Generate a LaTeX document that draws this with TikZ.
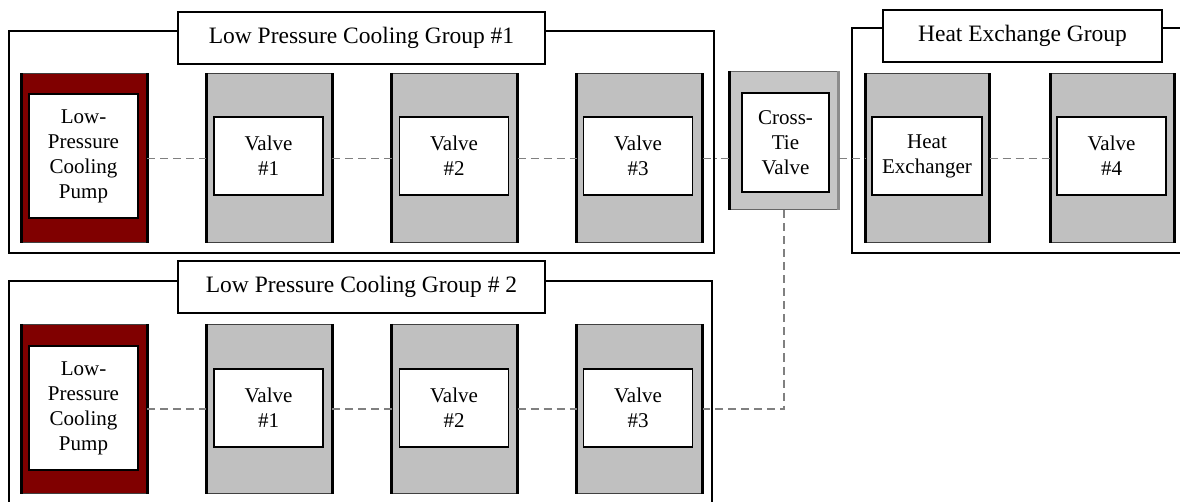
\documentclass[tikz,border=0pt]{standalone}
\usepackage{fontspec}
\setmainfont{Liberation Serif}
\newcommand\bxfont{\fontsize{21}{25}\selectfont}
\newcommand\ttlfont{\fontsize{23.5}{28}\selectfont}
\definecolor{valvegray}{HTML}{C0C0C0}
\definecolor{pumpred}{HTML}{800000}
\definecolor{pipegray}{HTML}{808080}
\tikzset{
  groupbox/.style={draw=black, line width=2pt, fill=none, inner sep=0pt},
  titlebox/.style={draw=black, fill=white, line width=1.5pt, font=\ttlfont, inner sep=0pt, minimum height=52pt},
  valvebox/.style={draw=black!75, fill=valvegray, line width=1pt, inner sep=0pt, minimum width=125pt, minimum height=169pt},
  pumpbox/.style={valvebox, fill=pumpred},
  crossbox/.style={draw=black!60, fill=valvegray!90, line width=1pt, inner sep=0pt, minimum width=108pt, minimum height=138pt},
  labelbox/.style={draw=black, fill=white, line width=1.5pt, align=center, font=\bxfont, inner sep=0pt, minimum width=109pt, minimum height=78pt},
  sideline/.style={draw=black, line width=3pt},
  pipe/.style={draw=pipegray, line width=1.5pt, dash pattern=on 8pt off 5pt},
  pipedot/.style={draw=pipegray, line width=1.5pt, dash pattern=on 8pt off 4pt on 2pt off 4pt}
}
\begin{document}
\begin{tikzpicture}[x=1pt,y=-1pt]
\useasboundingbox (0,0) rectangle (1180,502);
\begin{scope}
\clip (0,0) rectangle (1180,502);
% group frames
\node[groupbox, minimum width=705pt, minimum height=222pt] (g1) at (361.5,142) {};
\node[groupbox, minimum width=348pt, minimum height=225pt] (g3) at (1026,140.5) {};
\node[groupbox, minimum width=703pt, minimum height=242pt] (g2) at (360.5,402) {};
\node[titlebox, minimum width=367pt] (g1t) at (361.5,38) {Low Pressure Cooling Group \#1};
\node[titlebox, minimum width=279pt] (g3t) at (1022.5,36) {Heat Exchange Group};
\node[titlebox, minimum width=367pt] (g2t) at (361.5,287) {Low Pressure Cooling Group \# 2};

% row 1
\node[pumpbox] (p1) at (84,158.5) {};
\node[valvebox] (a1) at (269,158.5) {};
\node[valvebox] (a2) at (454.5,158.5) {};
\node[valvebox] (a3) at (639.5,158.5) {};
\node[crossbox] (ct) at (784,141) {};
\node[valvebox, minimum width=123pt] (hx) at (927.5,158.5) {};
\node[valvebox, minimum width=123pt] (a4) at (1112.5,158.5) {};
% row 2
\node[pumpbox] (p2) at (84,409) {};
\node[valvebox] (b1) at (269,409) {};
\node[valvebox] (b2) at (454.5,409) {};
\node[valvebox] (b3) at (639.5,409) {};

\foreach \n in {p1,a1,a2,a3,hx,a4,p2,b1,b2,b3}{
  \draw[sideline] (\n.north west) -- (\n.south west);
  \draw[sideline] (\n.north east) -- (\n.south east);
}
\draw[sideline] (ct.north west) -- (ct.south west);
\draw[sideline, draw=black!45] (ct.north east) -- (ct.south east);

% labels
\node[labelbox, minimum height=124pt] (p1t) at (83.5,156) {Low-\\Pressure\\Cooling\\Pump};
\node[labelbox] (a1t) at (268.5,156) {Valve\\\#1};
\node[labelbox] (a2t) at (454,156) {Valve\\\#2};
\node[labelbox] (a3t) at (638,156) {Valve\\\#3};
\node[labelbox, minimum width=87pt, minimum height=99pt] (ctt) at (785.5,142.5) {Cross-\\Tie\\Valve};
\node[labelbox, minimum width=110pt] (hxt) at (927,156) {Heat\\Exchanger};
\node[labelbox, minimum width=109pt] (a4t) at (1111.5,156) {Valve\\\#4};
\node[labelbox, minimum height=124pt] (p2t) at (83.5,408) {Low-\\Pressure\\Cooling\\Pump};
\node[labelbox] (b1t) at (268.5,408) {Valve\\\#1};
\node[labelbox] (b2t) at (454,408) {Valve\\\#2};
\node[labelbox] (b3t) at (638,408) {Valve\\\#3};

% connectors
\draw[pipe] (p1.east) -- (a1.west);
\draw[pipe] (a1.east) -- (a2.west);
\draw[pipe] (a2.east) -- (a3.west);
\draw[pipedot] (a3.east) -- (a3.east -| ct.west);
\draw[pipe] (ct.east |- hx.west) -- (hx.west);
\draw[pipe] (hx.east) -- (a4.west);
\draw[pipe] (p2.east) -- (b1.west);
\draw[pipe] (b1.east) -- (b2.west);
\draw[pipe] (b2.east) -- (b3.west);
\draw[pipe] (ct.south) -- (ct.south |- b3.east) -- (b3.east);
\end{scope}
\end{tikzpicture}
\end{document}
